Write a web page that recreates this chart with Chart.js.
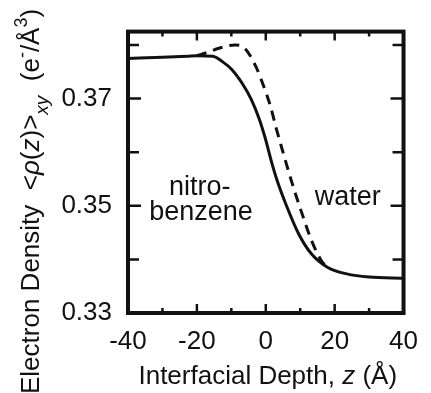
<!DOCTYPE html>
<html>
<head>
<meta charset="utf-8">
<script src="https://cdn.jsdelivr.net/npm/chart.js@4.4.1/dist/chart.umd.min.js"></script>
<style>
  html, body { margin: 0; padding: 0; background: #fff; }
  #wrap { width: 431px; height: 393px; position: relative; }
</style>
</head>
<body>
<div id="wrap"><canvas id="chart"></canvas></div>
<script>
// Electron density profile across the nitrobenzene / water interface

// solid curve
const depthSolid = [-40, -30, -22.8, -20, -15.4, -12.6, -9.8, -7.0, -4.25, -1.9, -0.1, 1.75, 3.1, 5.9, 9.6, 13.3, 18.0, 23.5, 30, 40];
const densitySolid = [0.3775, 0.3777, 0.3779, 0.3780, 0.3779, 0.3769, 0.3754, 0.3730, 0.3699, 0.3662, 0.3625, 0.3580, 0.3551, 0.3502, 0.3447, 0.3410, 0.3385, 0.3373, 0.3367, 0.3365];

// dashed curve
const depthDashed = [-20, -17, -13.6, -8.9, -6.1, -2.9, -0.6, 1.3, 3.1, 5.0, 7.8, 10.6, 13.3, 16.1, 18.0];
const densityDashed = [0.3780, 0.3786, 0.3794, 0.3800, 0.3794, 0.3760, 0.3723, 0.3687, 0.3643, 0.3600, 0.3539, 0.3484, 0.3435, 0.3398, 0.3385];

const xLabels = [-40, -20, 0, 20, 40];
const yLabels = ['0.33', '0.35', '0.37'];

const FONT = '"Liberation Sans", Arial, Helvetica, sans-serif';
const INK = '#111';

function toPoints(xs, ys) {
    return xs.map((x, i) => ({ x: x, y: ys[i] }));
}

// frame, inward ticks, titles and labels
const decorations = {
    id: 'decorations',
    afterDraw(chart) {
        const ctx = chart.ctx;
        const a = chart.chartArea;
        const xs = chart.scales.x;
        const ys = chart.scales.y;
        ctx.save();
        ctx.strokeStyle = INK;
        ctx.fillStyle = INK;

        // ticks on all four sides, pointing in
        ctx.lineWidth = 2.5;
        ctx.beginPath();
        xs.ticks.forEach(t => {
            const px = xs.getPixelForValue(t.value);
            const len = xLabels.includes(t.value) ? 9 : 5;
            ctx.moveTo(px, a.bottom); ctx.lineTo(px, a.bottom - len);
            ctx.moveTo(px, a.top); ctx.lineTo(px, a.top + len);
        });
        ys.ticks.forEach(t => {
            const py = ys.getPixelForValue(t.value);
            const len = yLabels.includes(t.value.toFixed(2)) ? 13 : 11;
            ctx.moveTo(a.left, py); ctx.lineTo(a.left + len, py);
            ctx.moveTo(a.right, py); ctx.lineTo(a.right - len, py);
        });
        ctx.stroke();

        // frame
        ctx.lineWidth = 4;
        ctx.strokeRect(a.left, a.top, a.right - a.left, a.bottom - a.top);

        // region labels
        ctx.font = '27px ' + FONT;
        ctx.textAlign = 'center';
        ctx.textBaseline = 'alphabetic';
        ctx.fillText('nitro-', xs.getPixelForValue(-19.2), ys.getPixelForValue(0.3521));
        ctx.fillText('benzene', xs.getPixelForValue(-18.8), ys.getPixelForValue(0.3473));
        ctx.fillText('water', xs.getPixelForValue(23.8), ys.getPixelForValue(0.3501));

        // x title
        const xt = [['Interfacial Depth, ', ''], ['z', 'italic '], [' (Å)', '']];
        let w = 0;
        xt.forEach(p => { ctx.font = p[1] + '26px ' + FONT; w += ctx.measureText(p[0]).width; });
        let cx = (a.left + a.right) / 2 - w / 2 + 2;
        ctx.textAlign = 'left';
        xt.forEach(p => {
            ctx.font = p[1] + '26px ' + FONT;
            ctx.fillText(p[0], cx, 384);
            cx += ctx.measureText(p[0]).width;
        });

        // y title, rotated, with sub and superscripts
        ctx.translate(39, 394);
        ctx.rotate(-Math.PI / 2);
        const yt = [
            ['Electron Density  <', '', 26, 0],
            ['ρ', 'italic ', 26, 0],
            ['(', '', 26, 0],
            ['z', 'italic ', 26, 0],
            [')>', '', 26, 0],
            ['xy', 'italic ', 19, 9],
            ['  (e', '', 26, 0],
            ['-', '', 18, -11],
            ['/Å', '', 26, 0],
            ['3', '', 18, -12],
            [')', '', 26, 0]
        ];
        let pos = 0;
        yt.forEach(p => {
            ctx.font = p[1] + p[2] + 'px ' + FONT;
            ctx.fillText(p[0], pos, p[3]);
            pos += ctx.measureText(p[0]).width;
        });
        ctx.restore();
    }
};

new Chart(document.getElementById('chart'), {
    type: 'line',
    plugins: [decorations],
    data: {
        datasets: [
            {
                data: toPoints(depthSolid, densitySolid),
                borderColor: INK,
                borderWidth: 3,
                pointRadius: 0,
                cubicInterpolationMode: 'monotone',
                fill: false
            },
            {
                data: toPoints(depthDashed, densityDashed),
                borderColor: INK,
                borderWidth: 3,
                borderDash: [10, 7],
                pointRadius: 0,
                cubicInterpolationMode: 'monotone',
                fill: false
            }
        ]
    },
    options: {
        responsive: true,
        maintainAspectRatio: false,
        animation: false,
        layout: { padding: { left: 0, right: 15, top: 28, bottom: 0 } },
        plugins: {
            legend: { display: false },
            tooltip: { enabled: false },
            title: { display: false }
        },
        scales: {
            x: {
                type: 'linear',
                min: -40,
                max: 40,
                afterFit(scale) { scale.height = 80; },
                grid: { display: false, drawTicks: false },
                border: { display: false },
                ticks: {
                    stepSize: 10,
                    includeBounds: false,
                    autoSkip: false,
                    maxRotation: 0,
                    padding: 13,
                    color: INK,
                    font: { family: FONT, size: 26 },
                    callback: v => xLabels.includes(v) ? String(v) : ''
                }
            },
            y: {
                type: 'linear',
                min: 0.33,
                max: 0.3825,
                afterFit(scale) { scale.width = 128; },
                grid: { display: false, drawTicks: false },
                border: { display: false },
                ticks: {
                    stepSize: 0.01,
                    includeBounds: false,
                    autoSkip: false,
                    padding: 16,
                    color: INK,
                    font: { family: FONT, size: 26 },
                    callback: v => yLabels.includes(v.toFixed(2)) ? v.toFixed(2) : ''
                }
            }
        }
    }
});
</script>
</body>
</html>
